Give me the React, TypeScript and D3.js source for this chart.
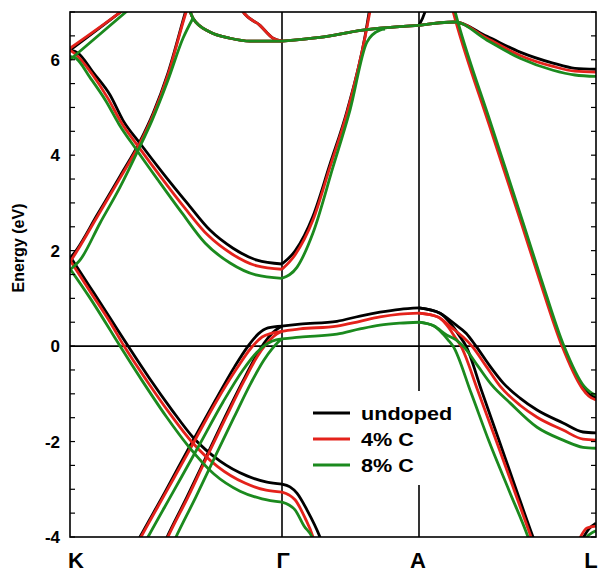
import React from "react";
import * as d3 from "d3";

type Pt = [number, number];

// k path coordinate: K=0, Γ=1, A=2, L=3 ; energy in eV
const symLabels = ["K", "Γ", "A", "L"];
const symPos = [0, 1, 2, 3];
const yTickLabels = [-4, -2, 0, 2, 4, 6];

const undoped: Pt[][] = [
  [[0, 6.2], [0.25, 7.04], [0.311, 7.25]],
  [[0, 1.84], [0.033, 2.03], [0.127, 2.74], [0.236, 3.56], [0.33, 4.29], [0.392, 4.88], [0.462, 5.72], [0.547, 7.04], [0.561, 7.25]],
  [[0, 6.2], [0.038, 6.14], [0.108, 5.74], [0.189, 5.26], [0.25, 4.73], [0.33, 4.25], [0.439, 3.62], [0.552, 3.0], [0.66, 2.43], [0.769, 2.05], [0.882, 1.8], [1, 1.72],
    [1.095, 1.99], [1.226, 2.72], [1.35, 3.81], [1.474, 4.92], [1.606, 6.49], [1.65, 7.25]],
  [[0.55, 7.25], [0.58, 6.87], [0.66, 6.58], [0.755, 6.45], [0.849, 6.39], [1, 6.39],
    [1.277, 6.47], [1.591, 6.62], [1.715, 6.66], [2, 6.72],
    [2.203, 6.79], [2.384, 6.49], [2.571, 6.16], [2.757, 5.93], [2.881, 5.82], [3, 5.8]],
  [[0.792, 7.25], [0.811, 7.04], [0.896, 6.72], [0.958, 6.45], [1, 6.39]],
  [[0, 1.88], [0.094, 1.24], [0.189, 0.59], [0.274, 0], [0.377, -0.69], [0.481, -1.34], [0.58, -1.91], [0.708, -2.41], [0.835, -2.72], [0.929, -2.85], [1, -2.89],
    [1.058, -2.95], [1.109, -3.08], [1.182, -3.43], [1.277, -4.0], [1.307, -4.23]],
  [[0.302, -4.23], [0.33, -4.0], [0.448, -3.06], [0.566, -2.09], [0.684, -1.15], [0.778, -0.42], [0.84, 0], [0.887, 0.25], [0.934, 0.38], [1, 0.42]],
  [[0.434, -4.23], [0.458, -4.0], [0.552, -3.16], [0.642, -2.32], [0.731, -1.49], [0.816, -0.73], [0.873, -0.25], [0.915, 0.06], [0.958, 0.29], [1, 0.42]],
  [[1, 0.42], [1.131, 0.46], [1.401, 0.52], [1.569, 0.63], [1.715, 0.71], [1.861, 0.77], [2, 0.8]],
  [[2, 0.8], [2.119, 0.69], [2.186, 0.44], [2.226, 0.23], [2.266, 0], [2.356, -0.96], [2.446, -1.91], [2.542, -2.93], [2.644, -4.0], [2.667, -4.23]],
  [[2, 0.8], [2.119, 0.69], [2.203, 0.46], [2.266, 0.27], [2.322, 0], [2.401, -0.42], [2.475, -0.77], [2.571, -1.09], [2.667, -1.34], [2.814, -1.61], [2.927, -1.8], [3, -1.82]],
  [[2.181, 7.25], [2.215, 6.79], [2.401, 4.65], [2.588, 2.53], [2.684, 1.42], [2.814, 0], [2.927, -0.86], [2.966, -1.01], [3, -1.09]],
  [[2, 6.72], [2.04, 7.08], [2.051, 7.25]],
  [[2.921, -4.06], [2.96, -3.83], [3, -3.71]],
];

const c4: Pt[][] = [
  [[0, 6.24], [0.25, 7.04], [0.311, 7.25]],
  [[0, 1.76], [0.033, 1.99], [0.127, 2.7], [0.236, 3.52], [0.33, 4.25], [0.392, 4.84], [0.462, 5.68], [0.547, 6.99], [0.566, 7.25]],
  [[0, 6.2], [0.033, 6.09], [0.104, 5.7], [0.179, 5.19], [0.241, 4.69], [0.321, 4.19], [0.429, 3.54], [0.542, 2.89], [0.651, 2.32], [0.764, 1.93], [0.882, 1.68], [1, 1.61],
    [1.095, 1.91], [1.226, 2.64], [1.35, 3.75], [1.474, 4.88], [1.606, 6.47], [1.657, 7.25]],
  [[0.55, 7.25], [0.58, 6.87], [0.66, 6.58], [0.755, 6.45], [0.849, 6.39], [1, 6.39],
    [1.277, 6.47], [1.591, 6.62], [1.715, 6.66], [2, 6.72],
    [2.203, 6.79], [2.384, 6.45], [2.571, 6.09], [2.757, 5.86], [2.881, 5.76], [3, 5.74]],
  [[0.792, 7.25], [0.811, 7.04], [0.896, 6.72], [0.958, 6.45], [1, 6.39]],
  [[0, 1.8], [0.094, 1.15], [0.189, 0.5], [0.255, 0], [0.363, -0.73], [0.472, -1.42], [0.575, -2.01], [0.698, -2.53], [0.825, -2.87], [0.925, -3.02], [1, -3.06],
    [1.051, -3.12], [1.095, -3.22], [1.168, -3.6], [1.226, -4.0], [1.248, -4.23]],
  [[0.307, -4.23], [0.335, -4.0], [0.453, -3.06], [0.571, -2.12], [0.689, -1.17], [0.788, -0.46], [0.854, -0.04], [0.906, 0.19], [0.953, 0.27], [1, 0.31]],
  [[0.439, -4.23], [0.462, -4.0], [0.557, -3.16], [0.646, -2.32], [0.736, -1.49], [0.821, -0.73], [0.882, -0.23], [0.925, 0.04], [0.962, 0.21], [1, 0.31]],
  [[1, 0.31], [1.131, 0.36], [1.401, 0.42], [1.569, 0.52], [1.715, 0.61], [1.861, 0.67], [2, 0.69]],
  [[2, 0.69], [2.107, 0.61], [2.169, 0.38], [2.203, 0.19], [2.237, 0], [2.333, -0.94], [2.429, -1.91], [2.531, -2.95], [2.633, -4.0], [2.655, -4.23]],
  [[2, 0.69], [2.107, 0.61], [2.186, 0.38], [2.249, 0.19], [2.299, 0], [2.379, -0.42], [2.458, -0.84], [2.571, -1.24], [2.667, -1.49], [2.814, -1.76], [2.927, -1.95], [3, -1.97]],
  [[2.175, 7.25], [2.209, 6.79], [2.395, 4.65], [2.582, 2.53], [2.678, 1.42], [2.808, 0], [2.921, -0.88], [2.96, -1.05], [3, -1.13]],
  [[2.904, -4.06], [2.949, -3.81], [3, -3.77]],
];

const c8: Pt[][] = [
  [[0, 6.0], [0.274, 7.04], [0.33, 7.25]],
  [[0, 1.6], [0.047, 1.8], [0.142, 2.58], [0.236, 3.33], [0.321, 4.1], [0.387, 4.73], [0.462, 5.57], [0.533, 6.45], [0.58, 6.87]],
  [[0, 6.07], [0.028, 6.03], [0.094, 5.63], [0.17, 5.13], [0.231, 4.65], [0.311, 4.13], [0.415, 3.48], [0.528, 2.79], [0.637, 2.16], [0.755, 1.74], [0.877, 1.49], [1, 1.42],
    [1.109, 1.65], [1.226, 2.37], [1.372, 3.75], [1.496, 4.94], [1.62, 6.37], [1.715, 6.62], [1.752, 6.64]],
  [[0.55, 7.25], [0.58, 6.87], [0.66, 6.58], [0.755, 6.45], [0.849, 6.39], [1, 6.39],
    [1.277, 6.47], [1.591, 6.62], [1.715, 6.66], [2, 6.72],
    [2.203, 6.79], [2.384, 6.41], [2.571, 6.03], [2.757, 5.78], [2.881, 5.68], [3, 5.65]],
  [[0, 1.62], [0.094, 1.01], [0.189, 0.34], [0.236, 0], [0.344, -0.75], [0.453, -1.47], [0.557, -2.09], [0.679, -2.68], [0.802, -3.04], [0.906, -3.2], [1, -3.27],
    [1.051, -3.33], [1.095, -3.43], [1.161, -3.77], [1.219, -4.0], [1.248, -4.23]],
  [[0.34, -4.23], [0.368, -4.0], [0.486, -3.06], [0.604, -2.12], [0.722, -1.17], [0.816, -0.5], [0.882, -0.13], [0.934, 0.06], [0.972, 0.13], [1, 0.15]],
  [[0.476, -4.23], [0.5, -4.0], [0.594, -3.16], [0.684, -2.32], [0.774, -1.49], [0.854, -0.77], [0.915, -0.29], [0.953, -0.06], [0.981, 0.08], [1, 0.15]],
  [[1, 0.15], [1.131, 0.19], [1.401, 0.25], [1.569, 0.36], [1.715, 0.44], [1.861, 0.48], [2, 0.5]],
  [[2, 0.5], [2.085, 0.42], [2.136, 0.25], [2.164, 0.13], [2.192, 0], [2.294, -0.98], [2.395, -1.99], [2.508, -3.02], [2.616, -4.0], [2.638, -4.23]],
  [[2, 0.5], [2.085, 0.42], [2.158, 0.23], [2.209, 0.13], [2.249, 0], [2.333, -0.42], [2.412, -0.82], [2.514, -1.19], [2.667, -1.7], [2.814, -1.97], [2.927, -2.12], [3, -2.14]],
  [[2.186, 7.25], [2.22, 6.79], [2.407, 4.65], [2.593, 2.53], [2.689, 1.42], [2.819, 0], [2.932, -0.84], [2.966, -0.96], [3, -1.03]],
  [[2.932, -4.06], [2.966, -3.94], [3, -3.87]],
];

const seriesNames = ["undoped", "4% C", "8% C"];
const seriesColors = ["#000000", "#e4221b", "#1b8a1e"];
const seriesBands = [undoped, c4, c8];

const W = 599;
const H = 573;
const left = 70, right = 596, top = 12, bottom = 537;

// split a band at the high-symmetry points so kinks stay sharp
function splitAtSym(band: Pt[]): Pt[][] {
  const out: Pt[][] = [];
  let cur: Pt[] = [];
  band.forEach((p, i) => {
    cur.push(p);
    if (i > 0 && i < band.length - 1 && Number.isInteger(p[0])) {
      out.push(cur);
      cur = [p];
    }
  });
  if (cur.length > 1) out.push(cur);
  return out;
}

export default function App() {
  const x = d3.scaleLinear().domain(symPos).range([left, 282, 419, right]);
  const y = d3.scaleLinear().domain([-4, 7]).range([bottom, top]);

  const line = d3
    .line<Pt>()
    .x((d) => x(d[0]))
    .y((d) => y(d[1]))
    .curve(d3.curveMonotoneX);

  const minor = d3.range(-4, 7.01, 0.5);
  const font = "'Liberation Sans', Arial, Helvetica, sans-serif";
  const symX = [76, 283, 418, 591];

  return (
    <svg width={W} height={H} style={{ position: "absolute", left: 0, top: 0, background: "#fff" }} fontFamily={font}>
      <defs>
        <clipPath id="plot-clip">
          <rect x={left} y={top} width={right - left} height={bottom - top} />
        </clipPath>
      </defs>
      <rect x={0} y={0} width={W} height={H} fill="#fff" />

      {/* zero line and symmetry lines */}
      <line x1={left} x2={right} y1={y(0)} y2={y(0)} stroke="#000" strokeWidth={1.6} />
      {[1, 2].map((k) => (
        <line key={k} x1={x(k)} x2={x(k)} y1={top} y2={bottom} stroke="#000" strokeWidth={1.6} />
      ))}

      <g clipPath="url(#plot-clip)">
        {seriesBands.map((bands, si) => (
          <g key={si} fill="none" stroke={seriesColors[si]} strokeWidth={2.8} strokeLinejoin="round">
            {bands.flatMap((b, bi) =>
              splitAtSym(b).map((seg, j) => <path key={bi + "-" + j} d={line(seg) || ""} />)
            )}
          </g>
        ))}
      </g>

      {/* legend */}
      <rect x={305} y={391} width={160} height={94} fill="#fff" />
      {seriesNames.map((name, i) => {
        const ly = 413 + i * 26;
        return (
          <g key={name}>
            <line x1={313} x2={350} y1={ly} y2={ly} stroke={seriesColors[i]} strokeWidth={3} />
            <text
              transform={`translate(361,${ly + 6.5}) scale(1.2,1)`}
              fontSize={18}
              fontWeight="bold"
              fill="#000"
            >
              {name}
            </text>
          </g>
        );
      })}

      {/* frame */}
      <rect x={left} y={top} width={right - left} height={bottom - top} fill="none" stroke="#000" strokeWidth={1.6} />

      {/* ticks */}
      {minor.map((v) => (
        <g key={v}>
          <line x1={left} x2={left + 5} y1={y(v)} y2={y(v)} stroke="#000" strokeWidth={1.2} />
          <line x1={right - 5} x2={right} y1={y(v)} y2={y(v)} stroke="#000" strokeWidth={1.2} />
        </g>
      ))}
      {yTickLabels.map((v) => (
        <text key={v} x={60} y={y(v) + 6} textAnchor="end" fontSize={17} fontWeight="bold">
          {v}
        </text>
      ))}

      {symLabels.map((s, i) => (
        <text key={s} x={symX[i]} y={568} textAnchor="middle" fontSize={22} fontWeight="bold">
          {s}
        </text>
      ))}

      <text transform="translate(24,248) rotate(-90)" textAnchor="middle" fontSize={16} fontWeight="bold">
        Energy (eV)
      </text>
    </svg>
  );
}
